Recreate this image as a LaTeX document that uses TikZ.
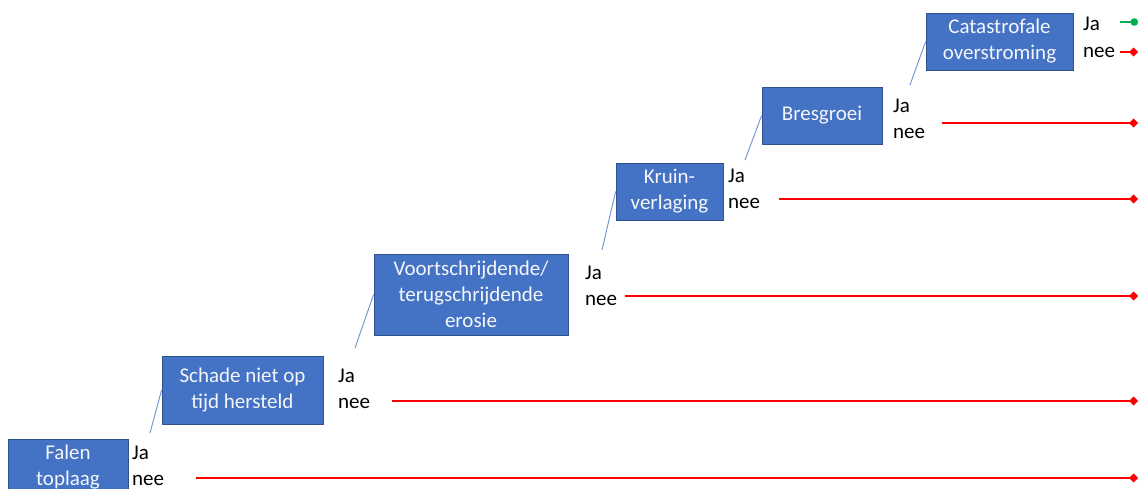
\documentclass[tikz,border=0pt]{standalone}
\usepackage{fontspec}
\setmainfont{Carlito}
\usetikzlibrary{arrows.meta}
\definecolor{boxblue}{HTML}{4472C4}
\definecolor{boxedge}{HTML}{2F528F}
\definecolor{linkblue}{HTML}{6F8FD0}
\definecolor{okgreen}{HTML}{00B050}
\definecolor{boxtext}{HTML}{F4F6FA}
\begin{document}
\begin{tikzpicture}[x=1pt,y=-1pt,
  stage/.style={draw=boxedge, line width=0.8pt, fill=boxblue, text=boxtext, align=center, inner sep=0pt, font=\fontsize{21}{26}\selectfont},
  lbl/.style={anchor=base west, inner sep=0pt, font=\fontsize{21}{26}\selectfont},
  link/.style={draw=linkblue, line width=0.9pt},
  fail/.style={draw=red, line width=1.8pt, -{Diamond[width=9pt,length=9pt]}},
  succ/.style={draw=okgreen, line width=1.8pt, -{Circle[length=7.5pt]}}]
\clip (0,0) rectangle (1141,488);
\fill[white] (0,0) rectangle (1141,488);
% stages
\node[stage, minimum width=120pt, minimum height=56pt] (b1) at (68,467) {Falen\\toplaag};
\node[stage, minimum width=161pt, minimum height=68pt] (b2) at (242.5,390) {Schade niet op\\tijd hersteld};
\node[stage, minimum width=194pt, minimum height=81pt] (b3) at (471,294.5) {Voortschrijdende/\\terugschrijdende\\erosie};
\node[stage, minimum width=107pt, minimum height=57pt] (b4) at (669.5,191.5) {Kruin-\\verlaging};
\node[stage, minimum width=120pt, minimum height=57pt] (b5) at (822,115.5) {Bresgroei};
\node[stage, minimum width=147pt, minimum height=57pt] (b6) at (999.5,41.5) {Catastrofale\\overstroming};
% labels
\node[lbl] (ja1) at (132,459) {Ja};   \node[lbl] (nee1) at (132,485) {nee};
\node[lbl] (ja2) at (338,382) {Ja};   \node[lbl] (nee2) at (338,408) {nee};
\node[lbl] (ja3) at (585,279) {Ja};   \node[lbl] (nee3) at (585,305) {nee};
\node[lbl] (ja4) at (728,182) {Ja};   \node[lbl] (nee4) at (728,208) {nee};
\node[lbl] (ja5) at (893,112) {Ja};   \node[lbl] (nee5) at (893,138) {nee};
\node[lbl] (ja6) at (1083,30) {Ja};   \node[lbl] (nee6) at (1083,57) {nee};
% links
\coordinate (s1) at (150,433);
\coordinate (s2) at (355,348);
\coordinate (s3) at (602,250);
\coordinate (s4) at (745,160);
\coordinate (s5) at (910,85);
\draw[link] (s1) -- (b2.west);
\draw[link] (s2) -- (b3.west);
\draw[link] (s3) -- (b4.west);
\draw[link] (s4) -- (b5.west);
\draw[link] (s5) -- (b6.west);
% outcome lines
\coordinate (r1s) at (196,478);  \coordinate (r1e) at (1138,478);
\coordinate (r2s) at (392,401);  \coordinate (r2e) at (1138,401);
\coordinate (r3s) at (625,296);  \coordinate (r3e) at (1138,296);
\coordinate (r4s) at (779,199);  \coordinate (r4e) at (1138,199);
\coordinate (r5s) at (942,123);  \coordinate (r5e) at (1138,123);
\coordinate (r6s) at (1120,52);  \coordinate (r6e) at (1138,52);
\coordinate (g6s) at (1120,22);  \coordinate (g6e) at (1138,22);
\draw[fail] (r1s) -- (r1e);
\draw[fail] (r2s) -- (r2e);
\draw[fail] (r3s) -- (r3e);
\draw[fail] (r4s) -- (r4e);
\draw[fail] (r5s) -- (r5e);
\draw[fail] (r6s) -- (r6e);
\draw[succ] (g6s) -- (g6e);
\end{tikzpicture}
\end{document}
